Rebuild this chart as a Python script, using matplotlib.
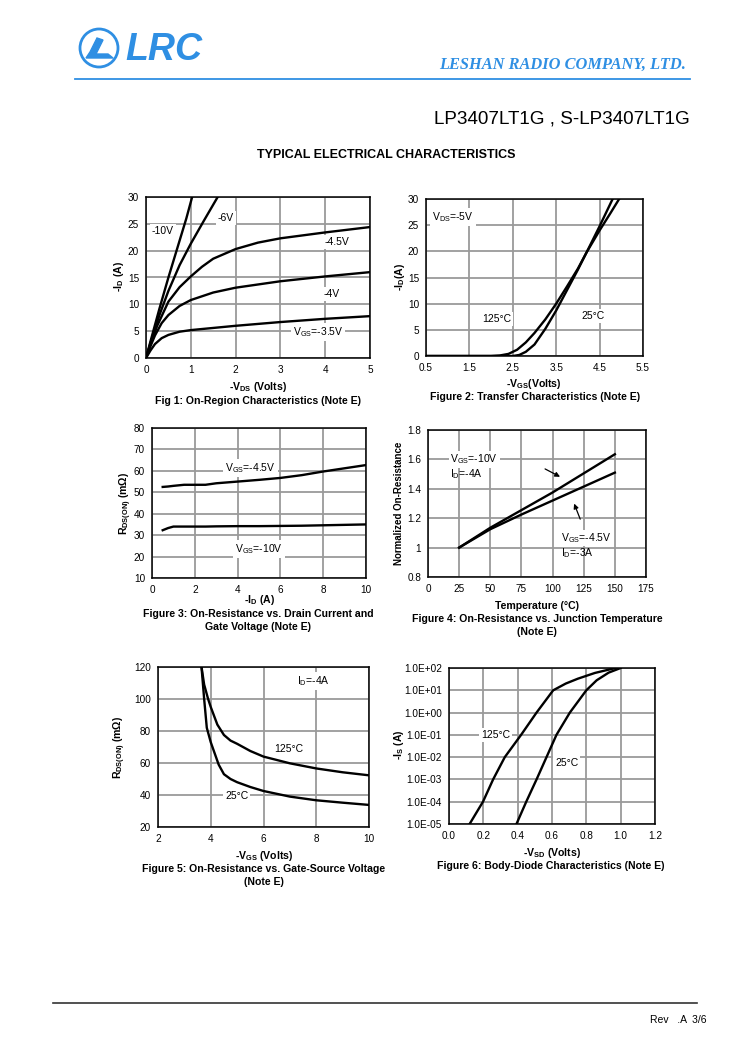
import numpy as np
import matplotlib
matplotlib.use("Agg")
import matplotlib.pyplot as plt
from matplotlib.patches import Circle, Polygon

plt.rcParams['font.family'] = ['Liberation Sans', 'DejaVu Sans']
plt.rcParams['mathtext.fontset'] = 'custom'
plt.rcParams['mathtext.rm'] = 'Liberation Sans'
plt.rcParams['mathtext.it'] = 'Liberation Sans'
plt.rcParams['mathtext.bf'] = 'Liberation Sans:bold'

# ---- data ----
# Fig 1: -ID vs -VDS for several VGS
vds_35 = [0, 0.1, 0.2, 0.35, 0.5, 0.75, 1.0, 1.5, 2.0, 3.0, 4.0, 5.0]
id_35 = [0, 1.4, 2.6, 3.7, 4.3, 4.9, 5.2, 5.6, 6.0, 6.7, 7.3, 7.8]
vds_4 = [0, 0.1, 0.2, 0.35, 0.5, 0.75, 1.0, 1.5, 2.0, 3.0, 4.0, 5.0]
id_4 = [0, 2.2, 4.2, 6.5, 8.0, 9.7, 10.8, 12.2, 13.1, 14.3, 15.2, 16.0]
vds_45 = [0, 0.1, 0.25, 0.5, 0.75, 1.0, 1.25, 1.5, 2.0, 2.5, 3.0, 4.0, 5.0]
id_45 = [0, 2.6, 6.0, 10.5, 13.2, 15.2, 17.0, 18.5, 20.3, 21.5, 22.3, 23.4, 24.4]
vds_6 = [0, 0.1, 0.3, 0.5, 0.75, 1.0, 1.3, 1.6]
id_6 = [0, 2.8, 8.0, 12.5, 17.3, 21.3, 25.7, 30.0]
vds_10 = [0, 0.1, 0.3, 0.5, 0.7, 0.9, 1.03]
id_10 = [0, 3.1, 9.2, 15.0, 20.5, 26.0, 30.0]

# Fig 2: transfer characteristics, VDS=-5V
vgs_125 = [0.5, 1.5, 2.0, 2.2, 2.4, 2.6, 2.8, 3.0, 3.25, 3.5, 3.75, 4.0, 4.2, 4.5, 4.75, 4.95]
id_125 = [0, 0, 0, 0.1, 0.4, 1.2, 2.6, 4.4, 7.0, 10.0, 13.3, 16.7, 19.8, 24.0, 27.3, 30.0]
vgs_25 = [0.5, 1.5, 2.0, 2.5, 2.65, 2.8, 3.0, 3.25, 3.5, 3.75, 4.0, 4.2, 4.5, 4.8]
id_25 = [0, 0, 0, 0, 0.2, 0.8, 2.2, 5.2, 8.7, 12.6, 16.5, 19.8, 24.8, 30.0]

# Fig 3: RDS(ON) vs -ID
id3 = [0.5, 0.75, 1.0, 1.5, 2.0, 2.5, 3.0, 4.0, 5.0, 6.0, 7.0, 8.0, 9.0, 10.0]
r_45 = [52.5, 52.7, 53.0, 53.5, 53.5, 53.5, 54.2, 55.0, 55.8, 56.7, 58.0, 59.7, 61.2, 62.7]
r_10 = [32.3, 33.3, 34.0, 34.0, 34.0, 34.0, 34.1, 34.2, 34.2, 34.3, 34.4, 34.6, 34.8, 35.0]

# Fig 4: normalized RDS(ON) vs temperature
temp4 = [25, 50, 75, 100, 125, 150]
n_10 = [1.0, 1.135, 1.255, 1.375, 1.505, 1.635]
n_45 = [1.0, 1.125, 1.225, 1.32, 1.415, 1.51]

# Fig 5: RDS(ON) vs -VGS, ID=-4A
vgs5_125 = [3.65, 3.75, 3.9, 4.0, 4.25, 4.5, 4.75, 5.0, 5.5, 6.0, 7.0, 8.0, 9.0, 10.0]
r5_125 = [120, 109, 100, 95, 84, 77.5, 74, 72, 67.5, 64, 59.8, 56.6, 54.2, 52.3]
vgs5_25 = [3.65, 3.75, 3.85, 4.0, 4.15, 4.3, 4.5, 4.75, 5.0, 5.5, 6.0, 7.0, 8.0, 9.0, 10.0]
r5_25 = [120, 100, 82, 73, 66, 59, 53, 50, 48, 45, 42.5, 39, 36.7, 35.2, 33.8]

# Fig 6: body diode, -IS vs -VSD
vsd_125 = [0.12, 0.198, 0.257, 0.325, 0.42, 0.51, 0.607, 0.68, 0.75, 0.85, 0.97]
is_125 = [1e-5, 1e-4, 1e-3, 1e-2, 1e-1, 1.0, 10.0, 20.0, 33.0, 60.0, 100.0]
vsd_25 = [0.393, 0.45, 0.51, 0.568, 0.626, 0.704, 0.80, 0.86, 0.93, 1.0]
is_25 = [1e-5, 1e-4, 1e-3, 1e-2, 1e-1, 1.0, 10.0, 28.0, 62.0, 100.0]
is_ticks = [1e-5, 1e-4, 1e-3, 1e-2, 1e-1, 1e0, 1e1, 1e2]
is_labels = ["1.0E-05", "1.0E-04", "1.0E-03", "1.0E-02", "1.0E-01", "1.0E+00", "1.0E+01", "1.0E+02"]

W, H = 750, 1061
BLUE = "#2f8fe3"
GRID = "#9a9a9a"
fig = plt.figure(figsize=(W / 100, H / 100), dpi=100)
fig.patch.set_facecolor("white")

# page overlay in pixel coordinates
page = fig.add_axes([0, 0, 1, 1], zorder=-5)
page.set_xlim(0, W)
page.set_ylim(H, 0)
page.axis("off")

# header
page.add_patch(Circle((99, 48), 19, fill=False, ec=BLUE, lw=2))
page.add_patch(Polygon([[86, 58], [113, 58], [108, 54], [96, 54], [103, 40], [97, 38], [90, 52]],
                       closed=True, fc=BLUE, ec=BLUE))
page.text(125, 50, "LRC", color=BLUE, fontsize=27, fontweight="bold", fontstyle="italic",
          ha="left", va="center")
page.text(686, 69, "LESHAN RADIO COMPANY, LTD.", color=BLUE, fontsize=11.8, fontweight="bold",
          fontstyle="italic", family="Liberation Serif", ha="right", va="baseline")
page.plot([75, 690], [79, 79], color=BLUE, lw=1.3)
page.text(690, 124, "LP3407LT1G , S-LP3407LT1G", fontsize=13.6, ha="right", va="baseline")
page.text(386, 158, "TYPICAL ELECTRICAL CHARACTERISTICS", fontsize=9, fontweight="bold",
          ha="center", va="baseline")

# footer
page.plot([53, 697], [1003, 1003], color="#333333", lw=1.2)
page.text(706, 1023, "Rev   .A  3/6", fontsize=7.5, ha="right", va="baseline")


def make_ax(l, t, r, b):
    ax = fig.add_axes([l / W, 1 - b / H, (r - l) / W, (b - t) / H])
    ax.grid(True, color=GRID, lw=1.3)
    ax.set_axisbelow(True)
    ax.tick_params(length=0, labelsize=7.2, pad=5)
    for s in ax.spines.values():
        s.set_linewidth(1.1)
    return ax


def labels(xl, xpos, yl, ypos, cap, cpos, ysize=7.6):
    page.text(xpos[0], xpos[1], xl, fontsize=7.6, fontweight="bold", ha="center", va="center")
    page.text(ypos[0], ypos[1], yl, fontsize=ysize, fontweight="bold", ha="center", va="center",
              rotation=90)
    for i, s in enumerate(cap):
        page.text(cpos[0], cpos[1] + i * 13, s, fontsize=7.6, fontweight="bold",
                  ha="center", va="center")


lbl = dict(fontsize=7.5, ha="center", va="center",
           bbox=dict(fc="white", ec="none", pad=1.5))
LW = 1.7

# ---- Fig 1 ----
ax1 = make_ax(146, 197, 370, 358)
for x, y in [(vds_35, id_35), (vds_4, id_4), (vds_45, id_45), (vds_6, id_6), (vds_10, id_10)]:
    ax1.plot(x, y, color="black", lw=LW)
ax1.set_xlim(0, 5)
ax1.set_ylim(0, 30)
ax1.set_xticks(range(0, 6))
ax1.set_yticks(range(0, 31, 5))
ax1.text(0.38, 23.6, "-10V", **lbl)
ax1.text(1.78, 26.1, "-6V", **lbl)
ax1.text(4.26, 21.6, "-4.5V", **lbl)
ax1.text(4.14, 11.9, "-4V", **lbl)
ax1.text(3.84, 4.9, r"V$_{\mathrm{GS}}$=-3.5V", **lbl)
labels(r"-V$_\mathbf{DS}$ (Volts)", (258, 387), r"-I$_\mathbf{D}$ (A)", (119, 277),
       ["Fig 1: On-Region Characteristics (Note E)"], (258, 401))

# ---- Fig 2 ----
ax2 = make_ax(426, 199, 643, 356)
ax2.plot(vgs_125, id_125, color="black", lw=LW)
ax2.plot(vgs_25, id_25, color="black", lw=LW)
ax2.set_xlim(0.5, 5.5)
ax2.set_ylim(0, 30)
ax2.set_xticks([0.5, 1.5, 2.5, 3.5, 4.5, 5.5])
ax2.set_yticks(range(0, 31, 5))
ax2.text(1.12, 26.6, r"V$_{\mathrm{DS}}$=-5V", **lbl)
ax2.text(2.13, 7.1, "125°C", **lbl)
ax2.text(4.35, 7.6, "25°C", **lbl)
labels(r"-V$_\mathbf{GS}$(Volts)", (534, 384), r"-I$_\mathbf{D}$(A)", (400, 277),
       ["Figure 2: Transfer Characteristics (Note E)"], (535, 397))

# ---- Fig 3 ----
ax3 = make_ax(152, 428, 366, 578)
ax3.plot(id3, r_45, color="black", lw=LW)
ax3.plot(id3, r_10, color="black", lw=LW)
ax3.set_xlim(0, 10)
ax3.set_ylim(10, 80)
ax3.set_xticks(range(0, 11, 2))
ax3.set_yticks(range(10, 81, 10))
ax3.text(4.6, 61.5, r"V$_{\mathrm{GS}}$=-4.5V", **lbl)
ax3.text(5.0, 23.5, r"V$_{\mathrm{GS}}$=-10V", **lbl)
labels(r"-I$_\mathbf{D}$ (A)", (259, 600), r"R$_\mathbf{DS(ON)}$ (mΩ)", (126, 503),
       ["Figure 3: On-Resistance vs. Drain Current and", "Gate Voltage (Note E)"], (258, 614))

# ---- Fig 4 ----
ax4 = make_ax(428, 430, 646, 577)
ax4.plot(temp4, n_10, color="black", lw=LW)
ax4.plot(temp4, n_45, color="black", lw=LW)
ax4.set_xlim(0, 175)
ax4.set_ylim(0.8, 1.8)
ax4.set_xticks(range(0, 176, 25))
ax4.set_yticks([0.8, 1.0, 1.2, 1.4, 1.6, 1.8])
ax4.set_yticklabels(["0.8", "1", "1.2", "1.4", "1.6", "1.8"])
tl = dict(fontsize=7.5, ha="left", va="center")
ax4.text(18, 1.60, r"V$_{\mathrm{GS}}$=-10V", bbox=dict(fc="white", ec="none", pad=1), **tl)
ax4.text(18, 1.50, r"I$_{\mathrm{D}}$=-4A", **tl)
ax4.text(107, 1.065, r"V$_{\mathrm{GS}}$=-4.5V", bbox=dict(fc="white", ec="none", pad=1), **tl)
ax4.text(107, 0.963, r"I$_{\mathrm{D}}$=-3A", **tl)
ax4.annotate("", xy=(108, 1.473), xytext=(92, 1.544),
             arrowprops=dict(arrowstyle="-|>", color="black", lw=0.9, mutation_scale=7))
ax4.annotate("", xy=(116.5, 1.317), xytext=(123, 1.176),
             arrowprops=dict(arrowstyle="-|>", color="black", lw=0.9, mutation_scale=7))
labels("Temperature (°C)", (537, 606), "Normalized On-Resistance", (399, 503),
       ["Figure 4: On-Resistance vs. Junction Temperature", "(Note E)"], (537, 619), ysize=7.0)

# ---- Fig 5 ----
ax5 = make_ax(158, 667, 369, 827)
ax5.plot(vgs5_125, r5_125, color="black", lw=LW)
ax5.plot(vgs5_25, r5_25, color="black", lw=LW)
ax5.set_xlim(2, 10)
ax5.set_ylim(20, 120)
ax5.set_xticks(range(2, 11, 2))
ax5.set_yticks(range(20, 121, 20))
ax5.text(7.9, 111, r"I$_{\mathrm{D}}$=-4A", **lbl)
ax5.text(6.94, 68.5, "125°C", **lbl)
ax5.text(4.98, 39.5, "25°C", **lbl)
labels(r"-V$_\mathbf{GS}$ (Volts)", (264, 856), r"R$_\mathbf{DS(ON)}$ (mΩ)", (120, 747),
       ["Figure 5: On-Resistance vs. Gate-Source Voltage", "(Note E)"], (264, 869))

# ---- Fig 6 ----
ax6 = make_ax(449, 668, 655, 824)
ax6.semilogy(vsd_125, is_125, color="black", lw=LW)
ax6.semilogy(vsd_25, is_25, color="black", lw=LW)
ax6.set_xlim(0, 1.2)
ax6.set_ylim(1e-5, 1e2)
ax6.set_xticks([0.0, 0.2, 0.4, 0.6, 0.8, 1.0, 1.2])
ax6.set_xticklabels(["0.0", "0.2", "0.4", "0.6", "0.8", "1.0", "1.2"])
ax6.set_yticks(is_ticks)
ax6.set_yticklabels(is_labels)
ax6.minorticks_off()
ax6.text(0.27, 1e-1, "125°C", **lbl)
ax6.text(0.685, 5.4e-3, "25°C", **lbl)
labels(r"-V$_\mathbf{SD}$ (Volts)", (552, 853), r"-I$_\mathbf{S}$ (A)", (399, 745),
       ["Figure 6: Body-Diode Characteristics (Note E)"], (551, 866))

fig.savefig("out.png", dpi=100, facecolor="white")
